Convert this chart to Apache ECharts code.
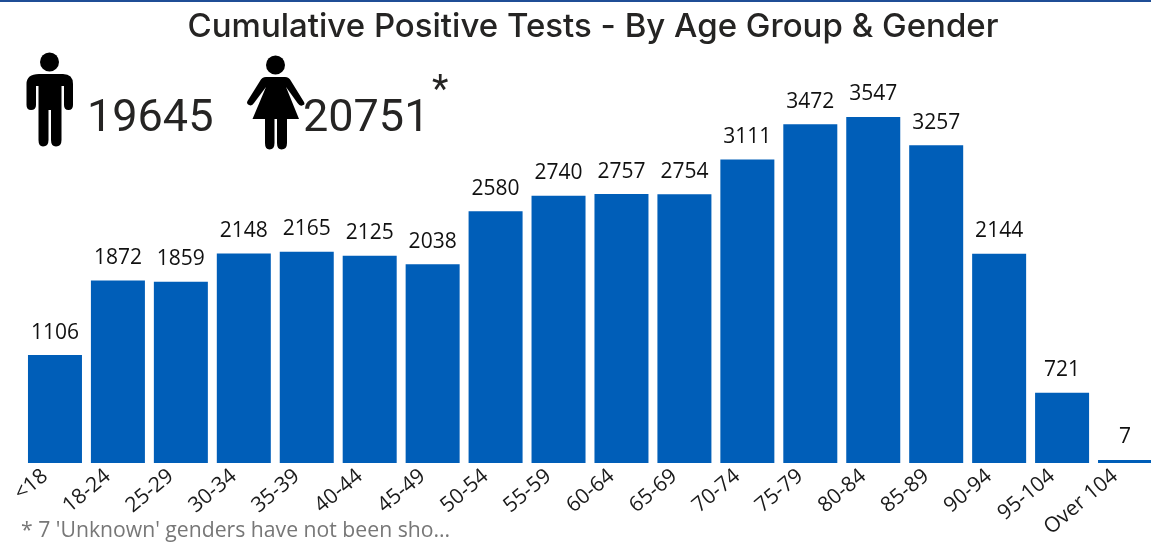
<!DOCTYPE html>
<html><head><meta charset="utf-8">
<style>html,body{margin:0;padding:0;background:#fff;overflow:hidden;width:1151px;height:543px}#c{width:1180px;height:543px}</style>
<script src="https://cdn.jsdelivr.net/npm/echarts@6/dist/echarts.min.js"></script>
</head><body><div id="c"></div>
<script>
const categories = ['<18','18-24','25-29','30-34','35-39','40-44','45-49','50-54','55-59','60-64','65-69','70-74','75-79','80-84','85-89','90-94','95-104','Over 104'];
const positives = [1106,1872,1859,2148,2165,2125,2038,2580,2740,2757,2754,3111,3472,3547,3257,2144,721,7];
const titleText = 'Cumulative Positive Tests - By Age Group & Gender';
const maleTotal = '19645';
const femaleTotal = '20751';
const footnote = "* 7 'Unknown' genders have not been sho...";
const manPath = 'M39 74H63Q73 74 73 84V105Q73 110 68.500 110Q64 110 64 105V86H61.500V140Q61.500 146.500 56 146.500Q51 146.500 51 140V110H48.500V140Q48.500 146.500 43 146.500Q38.500 146.500 38.500 140V86H36V105Q36 110 31 110Q26.500 110 26.500 105V84Q26.500 74 39 74Z';
const womanPath = 'M266 77H285Q289 77 291 81L304 102Q305.500 105 302 105.500Q300 106.500 297.500 103L286 87L299 119H287V143Q287 149.500 281.500 149.500Q277 149.500 277 143V119H274.500V143Q274.500 149.500 269.500 149.500Q265 149.500 265 143V119H252.500L266 87L254 103Q252 106.500 249 105Q246 103.500 247.500 101L260 81Q262 77 266 77Z';
echarts.graphic.registerShape('manIcon', echarts.graphic.extendPath(manPath, {}));
echarts.graphic.registerShape('womanIcon', echarts.graphic.extendPath(womanPath, {}));
const chart = echarts.init(document.getElementById('c'), null, {renderer:'canvas'});
chart.setOption({
  animation:false,
  title:{text:titleText,left:588,top:6,textAlign:'center',textStyle:{fontFamily:'Inter',fontSize:33,fontWeight:500,color:'#252423'}},
  grid:{left:23.5,width:1133,top:72.8,bottom:80,containLabel:false},
  xAxis:{type:'category',data:categories,axisLine:{show:false},axisTick:{show:false},
    axisLabel:{interval:0,rotate:40,margin:2,padding:[0,13,0,0],fontFamily:'Open Sans',fontSize:21,color:'#1a1a1a'}},
  yAxis:{type:'value',min:0,max:4000,show:false,splitLine:{show:false}},
  series:[{type:'bar',data:positives,barWidth:54,barMinHeight:3,itemStyle:{color:'#005eb8'},
    label:{show:true,position:'top',distance:12,fontFamily:'Open Sans',fontSize:21,color:'#111111'}}],
  graphic:[
    {type:'rect',shape:{x:0,y:0,width:1151,height:2},style:{fill:'#1f4e96'}},
    {type:'circle',shape:{cx:49.5,cy:62,r:9.5},style:{fill:'#000'}},
    {type:'manIcon',style:{fill:'#000'}},
    {type:'circle',shape:{cx:275.5,cy:65,r:9.5},style:{fill:'#000'}},
    {type:'womanIcon',style:{fill:'#000'}},
    {type:'text',x:87,y:97,style:{text:maleTotal,font:'400 45px Roboto',fill:'#252423'}},
    {type:'text',x:303,y:97,style:{text:femaleTotal,font:'400 45px Roboto',fill:'#252423'}},
    {type:'text',x:432,y:73,style:{text:'*',font:'400 38px Roboto',fill:'#252423'}},
    {type:'text',x:21,y:520,style:{text:footnote,font:'400 21.2px "Open Sans"',fill:'#777777'}}
  ]
});
</script></body></html>
